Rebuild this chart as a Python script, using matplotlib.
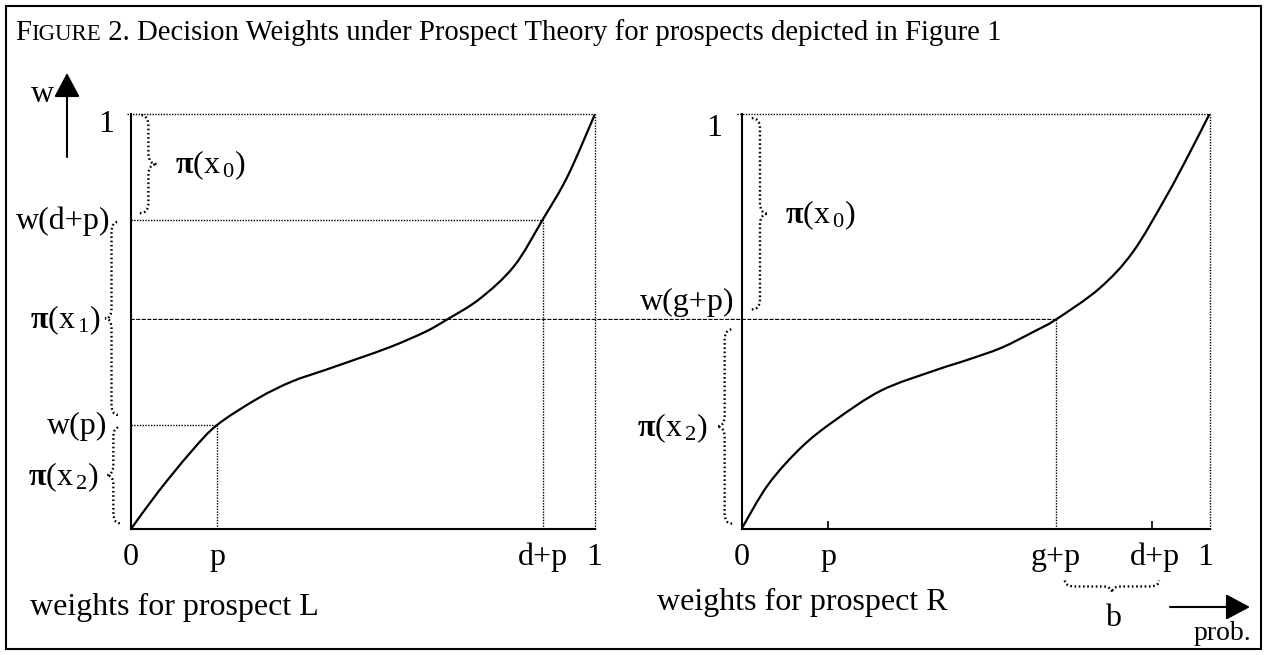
import numpy as np
import matplotlib.pyplot as plt
from matplotlib.path import Path
from matplotlib.patches import PathPatch, Rectangle, ConnectionPatch

plt.rcParams['font.family'] = ['Liberation Serif', 'DejaVu Serif']
plt.rcParams['mathtext.fontset'] = 'custom'
plt.rcParams['mathtext.rm'] = 'Liberation Serif'
plt.rcParams['mathtext.it'] = 'Liberation Serif:italic'
plt.rcParams['mathtext.bf'] = 'Liberation Serif:bold'

W, H = 1268, 655
FS = 23

# decision weight curve for prospect L
prob_L = [0, 0.059, 0.131, 0.186, 0.274, 0.346, 0.418, 0.490, 0.562,
          0.634, 0.680, 0.752, 0.826, 0.887, 0.941, 1.0]
weight_L = [0, 0.090, 0.188, 0.251, 0.315, 0.355, 0.383, 0.411, 0.440,
            0.475, 0.504, 0.555, 0.634, 0.745, 0.850, 1.0]

# decision weight curve for prospect R
prob_R = [0, 0.057, 0.128, 0.200, 0.299, 0.413, 0.484, 0.556, 0.627,
          0.672, 0.764, 0.836, 0.907, 0.957, 1.0]
weight_R = [0, 0.107, 0.197, 0.262, 0.334, 0.382, 0.408, 0.437, 0.477,
            0.505, 0.579, 0.667, 0.800, 0.905, 1.0]

# marked probabilities / weights
p_L, dp_L = 0.186, 0.887
p_R, gp_R, dp_R = 0.185, 0.672, 0.877
w_p, w_dp, w_mid = 0.251, 0.745, 0.505

xlab_L = ['0', 'p', 'd+p', '1']
xpos_L = [0, p_L, dp_L, 0.998]
xlab_R = ['0', 'p', 'g+p', 'd+p', '1']
xpos_R = [0, p_R, gp_R, 0.884, 0.99]

DOT = dict(color='k', lw=1.0, linestyle=(0, (1, 1)), clip_on=False)


def pi_lab(i):
    return r'$\mathbf{\pi}\mathrm{(x}_{\,%d}\mathrm{)}$' % i


def smooth_curve(ax, xs, ys):
    # draw the read points as one smooth bezier path (catmull-rom)
    pts = np.column_stack([xs, ys])
    n = len(pts)
    verts = [pts[0]]
    codes = [Path.MOVETO]
    for i in range(n - 1):
        p0 = pts[max(i - 1, 0)]
        p1, p2 = pts[i], pts[i + 1]
        p3 = pts[min(i + 2, n - 1)]
        verts += [p1 + (p2 - p0) / 6, p2 - (p3 - p1) / 6, p2]
        codes += [Path.CURVE4] * 3
    ax.add_patch(PathPatch(Path(verts, codes), fill=False, lw=1.6, color='k'))


def brace(ax, a0, a1, pos, depth, curl, vertical=True):
    m = (a0 + a1) / 2
    s = pos + depth / 2
    t = pos + depth
    pts = [(pos, a0), (s, a0), (s, a0 + curl), (s, m - curl), (s, m), (t, m),
           (s, m), (s, m + curl), (s, a1 - curl), (s, a1), (pos, a1)]
    if not vertical:
        pts = [(b, a) for a, b in pts]
    codes = [Path.MOVETO, Path.CURVE3, Path.CURVE3, Path.LINETO, Path.CURVE3,
             Path.CURVE3, Path.CURVE3, Path.CURVE3, Path.LINETO, Path.CURVE3,
             Path.CURVE3]
    ax.add_patch(PathPatch(Path(pts, codes), fill=False, lw=1.7,
                           linestyle=(0, (0.7, 1.1)), clip_on=False))


def setup(ax):
    ax.set_xlim(0, 1)
    ax.set_ylim(0, 1)
    ax.spines[['top', 'right']].set_visible(False)
    ax.spines[['left', 'bottom']].set_linewidth(1.5)
    ax.set_yticks([])
    ax.patch.set_alpha(0)


fig = plt.figure(figsize=(W / 100, H / 100), dpi=100)
axL = fig.add_axes([131 / W, 1 - 529 / H, 464 / W, 415 / H])
axR = fig.add_axes([741.5 / W, 1 - 529 / H, 468 / W, 415 / H])
setup(axL)
setup(axR)
axL.set_xticks([])
axR.set_xticks([p_R, dp_R], ['', ''])
axR.tick_params(axis='x', direction='in', length=6, width=1.2)

# left panel
smooth_curve(axL, prob_L, weight_L)
axL.plot([-0.008, 1], [1, 1], **DOT)
axL.plot([1, 1], [0, 1], **DOT)
axL.plot([0, dp_L], [w_dp, w_dp], **DOT)
axL.plot([dp_L, dp_L], [0, w_dp], **DOT)
axL.plot([0, p_L], [w_p, w_p], **DOT)
axL.plot([p_L, p_L], [0, w_p], **DOT)
for lab, x in zip(xlab_L, xpos_L):
    axL.text(x, -0.087, lab, fontsize=FS, ha='center', va='baseline')
axL.text(-0.037, 0.975, '1', fontsize=FS, ha='right', va='center')
axL.text(-0.045, 0.742, 'w(d+p)', fontsize=FS, ha='right', va='center')
axL.text(-0.050, 0.246, 'w(p)', fontsize=FS, ha='right', va='center')
axL.text(-0.067, 0.504, pi_lab(1), fontsize=FS, ha='right', va='center')
axL.text(-0.071, 0.125, pi_lab(2), fontsize=FS, ha='right', va='center')
axL.text(0.095, 0.877, pi_lab(0), fontsize=FS, ha='left', va='center')
brace(axL, w_dp + 0.016, 0.998, 0.019, 0.037, 0.025)
brace(axL, w_p + 0.024, w_dp - 0.005, -0.028, -0.028, 0.025)
brace(axL, 0.014, w_p - 0.005, -0.024, -0.028, 0.025)

# right panel
smooth_curve(axR, prob_R, weight_R)
axR.plot([-0.01, 1], [1, 1], **DOT)
axR.plot([1, 1], [0, 1], **DOT)
axR.plot([gp_R, gp_R], [0, w_mid], **DOT)
for lab, x in zip(xlab_R, xpos_R):
    axR.text(x, -0.087, lab, fontsize=FS, ha='center', va='baseline')
axR.text(-0.042, 0.965, '1', fontsize=FS, ha='right', va='center')
axR.text(-0.014, 0.545, 'w(g+p)', fontsize=FS, ha='right', va='center')
axR.text(-0.072, 0.243, pi_lab(2), fontsize=FS, ha='right', va='center')
axR.text(0.093, 0.757, pi_lab(0), fontsize=FS, ha='left', va='center')
brace(axR, w_mid + 0.024, 0.99, 0.022, 0.035, 0.025)
brace(axR, 0.013, w_mid - 0.024, -0.02, -0.032, 0.025)
brace(axR, gp_R + 0.019, dp_R + 0.015, -0.124, -0.029, 0.02, vertical=False)
axR.text((gp_R + dp_R) / 2 + 0.02, -0.215, 'b', fontsize=FS, ha='center', va='center')

# dashed line pi(x1) / w(g+p) across both panels
con = ConnectionPatch(xyA=(0, w_mid), coordsA=axL.transData,
                      xyB=(gp_R, w_mid), coordsB=axR.transData,
                      color='k', lw=0.8, linestyle=(0, (3, 2)))
fig.add_artist(con)

# axis arrows
arrow = dict(arrowstyle='-|>,head_length=0.75,head_width=0.4', color='k',
             lw=1.5, mutation_scale=20, shrinkA=0, shrinkB=0)
axL.annotate('', xy=(67, H - 73), xytext=(67, H - 157), xycoords='figure pixels',
             textcoords='figure pixels', arrowprops=arrow)
axR.annotate('', xy=(1250, H - 607), xytext=(1170, H - 607), xycoords='figure pixels',
             textcoords='figure pixels', arrowprops=arrow)
fig.text(43 / W, 1 - 95 / H, 'w', fontsize=FS, ha='center', va='center')
fig.text(1222 / W, 1 - 634 / H, 'prob.', fontsize=20, ha='center', va='center')
fig.text(30 / W, 1 - 607 / H, 'weights for prospect L', fontsize=FS, ha='left', va='center')
fig.text(657 / W, 1 - 602 / H, 'weights for prospect R', fontsize=FS, ha='left', va='center')

# title with small caps "FIGURE"
r = fig.canvas.get_renderer()
x, y = 15 / W, 1 - 40 / H
for txt, size in [('F', 20.7), ('IGURE', 16.5), (' 2. Decision Weights under Prospect Theory '
                                              'for prospects depicted in Figure 1', 20.7)]:
    t = fig.text(x, y, txt, fontsize=size, ha='left', va='baseline')
    x = t.get_window_extent(r).x1 / fig.bbox.width

# outer frame
fig.add_artist(Rectangle((6 / W, 6 / H), 1255 / W, 643 / H, transform=fig.transFigure,
                         fill=False, lw=1.5, color='k'))

fig.savefig('out.png', dpi=100)
